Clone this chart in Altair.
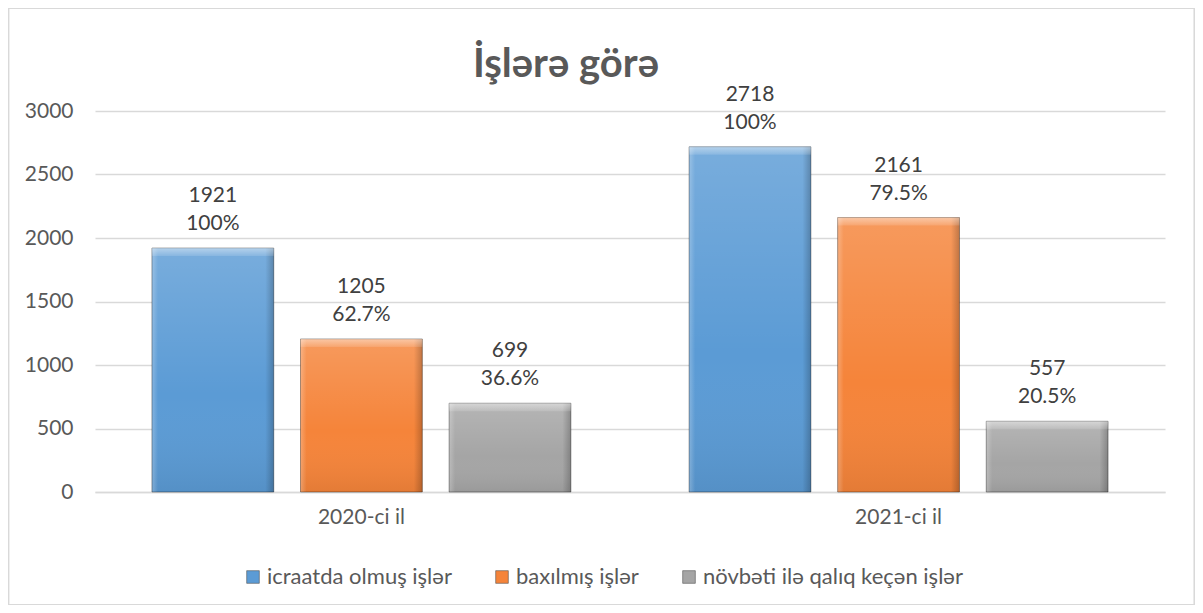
import altair as alt
import pandas as pd

years = ["2020-ci il", "2021-ci il"]
series = ["icraatda olmuş işlər", "baxılmış işlər", "növbəti ilə qalıq keçən işlər"]
vals_icraat = [1921, 2718]
vals_baxilmis = [1205, 2161]
vals_novbeti = [699, 557]
pct_icraat = ["100%", "100%"]
pct_baxilmis = ["62.7%", "79.5%"]
pct_novbeti = ["36.6%", "20.5%"]
colors = ["#5b9bd5", "#f5843a", "#a5a5a5"]

rows = []
for s, vals, pcts in zip(series, [vals_icraat, vals_baxilmis, vals_novbeti],
                         [pct_icraat, pct_baxilmis, pct_novbeti]):
    for y, v, p in zip(years, vals, pcts):
        rows.append({"year": y, "series": s, "value": v, "label": f"{v}\n{p}"})
df = pd.DataFrame(rows)

FONT = "Lato"
TXT = "#595959"

x = alt.X("year:N", title=None, sort=years,
          scale=alt.Scale(paddingInner=0.22, paddingOuter=0.106),
          axis=alt.Axis(labelAngle=0, labelFontSize=21, labelColor=TXT, labelFont=FONT,
                        ticks=False, domainColor="#d9d9d9", domainWidth=1.3,
                        labelPadding=14))
xo = alt.XOffset("series:N", sort=series,
                 scale=alt.Scale(domain=series, paddingInner=0.18, paddingOuter=0))
y = alt.Y("value:Q", title=None,
          scale=alt.Scale(domain=[0, 3000], nice=False),
          axis=alt.Axis(values=[0, 500, 1000, 1500, 2000, 2500, 3000], format="d",
                        labelFontSize=21, labelColor=TXT, labelFont=FONT, ticks=False,
                        domain=False, gridColor="#d9d9d9", gridWidth=1.3, labelPadding=22))

base = alt.Chart(df)

flat = base.mark_bar().encode(
    x=x, xOffset=xo, y=y,
    color=alt.Color("series:N", sort=series,
                    scale=alt.Scale(domain=series, range=colors),
                    legend=alt.Legend(title=None, orient="none", direction="horizontal",
                                      legendX=147, legendY=455, symbolType="square",
                                      symbolSize=160, labelFontSize=22, labelFont=FONT,
                                      labelColor=TXT, columnPadding=39, labelOffset=3,
                                      labelLimit=0,
                                      symbolStrokeColor="#555555", symbolStrokeWidth=0.6)),
)

vgrad = alt.Gradient(gradient="linear", x1=0, x2=0, y1=0, y2=1, stops=[
    alt.GradientStop(color="rgba(255,255,255,0.18)", offset=0),
    alt.GradientStop(color="rgba(255,255,255,0.0)", offset=0.6),
    alt.GradientStop(color="rgba(0,0,0,0.07)", offset=1)])
shade_v = base.mark_bar(color=vgrad).encode(x=x, xOffset=xo, y=y)

hgrad = alt.Gradient(gradient="linear", x1=0, x2=1, y1=0, y2=0, stops=[
    alt.GradientStop(color="rgba(255,255,255,0.25)", offset=0),
    alt.GradientStop(color="rgba(255,255,255,0.0)", offset=0.05),
    alt.GradientStop(color="rgba(0,0,0,0.0)", offset=0.93),
    alt.GradientStop(color="rgba(0,0,0,0.22)", offset=1)])
shade_h = base.mark_bar(color=hgrad, stroke="rgba(0,0,0,0.35)", strokeWidth=1).encode(
    x=x, xOffset=xo, y=y)

tgrad = alt.Gradient(gradient="linear", x1=0, x2=0, y1=0, y2=1, stops=[
    alt.GradientStop(color="rgba(255,255,255,0.45)", offset=0),
    alt.GradientStop(color="rgba(255,255,255,0.12)", offset=1)])
bevel = base.mark_bar(color=tgrad, y2Offset=8).encode(
    x=x, xOffset=xo, y=y, y2=alt.Y2("value:Q"))

labels = base.mark_text(baseline="bottom", dy=-42, lineBreak="\n", lineHeight=28,
                        fontSize=21, font=FONT, color="#404040").encode(
    x=x, xOffset=xo, y=y, text="label:N")

frame = base.mark_rect(fill=None, stroke="#d9d9d9", strokeWidth=1.2).encode(
    x=alt.value(-86.5), x2=alt.value(1099.5), y=alt.value(-102.5), y2=alt.value(493.5))

chart = alt.layer(frame, flat, shade_v, shade_h, bevel, labels).properties(
    width=1070, height=381,
    autosize=alt.AutoSizeParams(type="none"),
    padding={"left": 87, "top": 103, "right": 30, "bottom": 113},
    title=alt.TitleParams("İşlərə görə", fontSize=40, fontWeight="bold", font=FONT,
                          color=TXT, anchor="middle", dx=-64, offset=-77),
).configure_view(stroke=None)

chart.save("out.html", embed_options={"renderer": "svg", "actions": False})
